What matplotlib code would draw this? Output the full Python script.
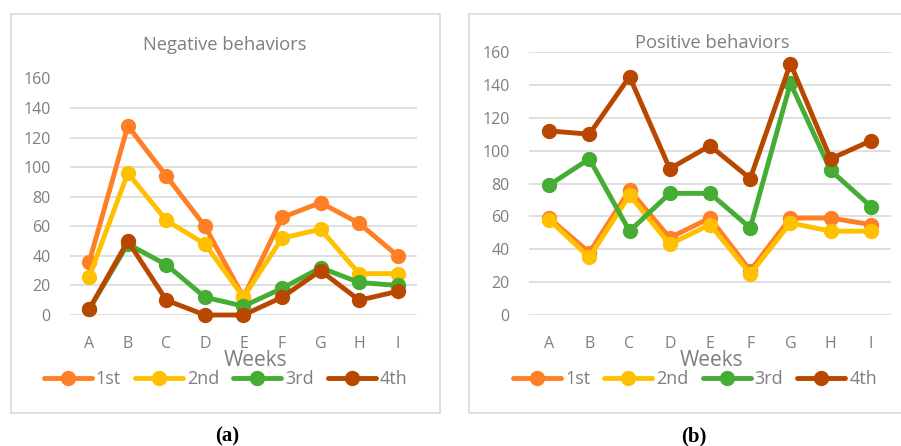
import matplotlib.pyplot as plt
from matplotlib.patches import Rectangle

weeks = ["A", "B", "C", "D", "E", "F", "G", "H", "I"]
series = ["1st", "2nd", "3rd", "4th"]
colors = ["#FF7F27", "#FFC000", "#45AC34", "#B84800"]

neg_1st = [36, 128, 94, 60, 12, 66, 76, 62, 40]
neg_2nd = [26, 96, 64, 48, 12, 52, 58, 28, 28]
neg_3rd = [4, 48, 34, 12, 6, 18, 32, 22, 20]
neg_4th = [4, 50, 10, 0, 0, 12, 30, 10, 16]

pos_1st = [59, 38, 76, 47, 59, 27, 59, 59, 55]
pos_2nd = [58, 35, 73, 43, 55, 25, 56, 51, 51]
pos_3rd = [79, 95, 51, 74, 74, 53, 141, 88, 66]
pos_4th = [112, 110, 145, 89, 103, 83, 153, 95, 106]

plt.rcParams['font.family'] = ['Open Sans', 'DejaVu Sans']
W, H = 901, 446
fig = plt.figure(figsize=(W / 100, H / 100), dpi=100)
txt = "#7F7F7F"


def px(x0, y0, x1, y1):
    # pixel box (top-left origin) -> figure fraction
    return [x0 / W, 1 - y1 / H, (x1 - x0) / W, (y1 - y0) / H]


def ftext(x, y, s, **kw):
    fig.text(x / W, 1 - y / H, s, ha="center", va="center", **kw)


def panel(box, axbox, title, title_y, data, cx, wx, capx, cap):
    fig.patches.append(Rectangle((box[0] / W, 1 - box[3] / H),
                                 (box[2] - box[0]) / W, (box[3] - box[1]) / H,
                                 transform=fig.transFigure, fill=False,
                                 edgecolor="#D9D9D9", linewidth=1.2))
    ax = fig.add_axes(px(*axbox))
    x = range(len(weeks))
    for vals, c, lab in zip(data, colors, series):
        ax.plot(x, vals, color=c, lw=3.5, marker="o", ms=10, label=lab,
                clip_on=False, solid_capstyle="round")
    ax.set_xlim(-0.5, 8.5)
    ax.set_ylim(0, 160)
    ax.set_yticks(range(0, 161, 20))
    ax.set_xticks(list(x))
    ax.set_xticklabels(weeks)
    ax.grid(axis="y", color="#D9D9D9", lw=1.2)
    ax.set_axisbelow(True)
    for s in ax.spines.values():
        s.set_visible(False)
    ax.tick_params(length=0, labelsize=11.5, labelcolor=txt)
    ax.tick_params(axis="y", pad=14)
    ax.tick_params(axis="x", pad=15)
    ftext(wx, 361, "Weeks", fontsize=15, color=txt)
    ftext(cx, title_y, title, fontsize=13.2, color=txt)
    leg_x = ((box[0] + box[2]) / 2 - axbox[0]) / (axbox[2] - axbox[0])
    leg_y = (axbox[3] - 379) / (axbox[3] - axbox[1])
    ax.legend(loc="center", bbox_to_anchor=(leg_x, leg_y), ncol=4,
              frameon=False, fontsize=13, labelcolor=txt, handlelength=2.66,
              handletextpad=0.22, columnspacing=0.78, borderaxespad=0,
              borderpad=0)
    ftext(capx, 436, cap, fontsize=15, family="Liberation Serif",
          fontweight="bold")
    return ax


panel((11, 14, 440, 413), (70, 78.5, 417, 315), "Negative behaviors", 45,
      [neg_1st, neg_2nd, neg_3rd, neg_4th], 225, 256, 227, "(a)")
panel((469, 14, 921, 413), (529, 52, 891, 315), "Positive behaviors", 43,
      [pos_1st, pos_2nd, pos_3rd, pos_4th], 712, 712, 694, "(b)")

fig.savefig("out.png", dpi=100)
